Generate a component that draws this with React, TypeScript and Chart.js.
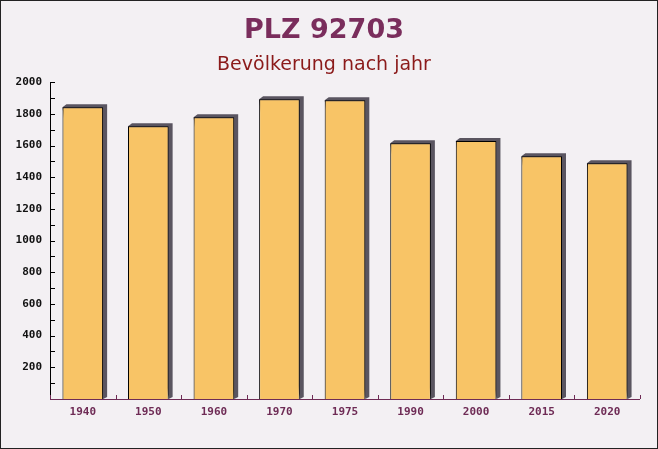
import React, { useEffect, useRef } from "react";
import { Chart, registerables } from "chart.js";

Chart.register(...registerables);

const categories = ["1940", "1950", "1960", "1970", "1975", "1990", "2000", "2015", "2020"];
const population = [1842, 1722, 1779, 1893, 1886, 1615, 1628, 1533, 1489];
const yTickValues = [200, 400, 600, 800, 1000, 1200, 1400, 1600, 1800, 2000];
const titleText = "PLZ 92703";
const subtitleText = "Bevölkerung nach jahr";

const MONO = "'DejaVu Sans Mono', monospace";

const depthPlugin = {
  id: "depth",
  beforeDatasetsDraw(chart: any) {
    const ctx = chart.ctx;
    const meta = chart.getDatasetMeta(0);
    const dx = 4, dy = 3;
    ctx.save();
    ctx.fillStyle = "#5a5560";
    meta.data.forEach((bar: any) => {
      const left = bar.x - bar.width / 2;
      const right = bar.x + bar.width / 2;
      const top = bar.y;
      const bottom = bar.base;
      ctx.beginPath();
      ctx.moveTo(left, top);
      ctx.lineTo(left + dx, top - dy);
      ctx.lineTo(right + dx, top - dy);
      ctx.lineTo(right + dx, bottom - 2);
      ctx.lineTo(right, bottom);
      ctx.closePath();
      ctx.fill();
    });
    ctx.restore();
  },
  afterDatasetsDraw(chart: any) {
    const ctx = chart.ctx;
    const { left, right, bottom, top } = chart.chartArea;
    const y = chart.scales.y;
    const x = chart.scales.x;
    ctx.save();
    ctx.strokeStyle = "#000";
    ctx.lineWidth = 1;
    ctx.beginPath();
    ctx.moveTo(left + 0.5, top);
    ctx.lineTo(left + 0.5, bottom);
    for (let v = 100; v <= 2000; v += 100) {
      const py = Math.round(y.getPixelForValue(v)) + 0.5;
      const major = v % 200 === 0;
      ctx.moveTo(left + (major ? 0 : 1), py);
      ctx.lineTo(left + 5, py);
    }
    ctx.stroke();
    ctx.strokeStyle = "#6e2b55";
    ctx.beginPath();
    ctx.moveTo(left, bottom + 0.5);
    ctx.lineTo(right, bottom + 0.5);
    const n = categories.length;
    for (let i = 0; i <= n; i++) {
      const px = Math.round(x.getPixelForValue(i - 0.5)) + 0.5;
      ctx.moveTo(px, bottom);
      ctx.lineTo(px, bottom - 4);
    }
    ctx.stroke();
    ctx.restore();
  },
};

const bgPlugin = {
  id: "bg",
  beforeDraw(chart: any) {
    const ctx = chart.ctx;
    ctx.save();
    ctx.fillStyle = "#f3f0f3";
    ctx.fillRect(0, 0, chart.width, chart.height);
    ctx.strokeStyle = "#222";
    ctx.lineWidth = 1;
    ctx.strokeRect(0.5, 0.5, chart.width - 1, chart.height - 1);
    ctx.restore();
  },
};

export default function App() {
  const ref = useRef<HTMLCanvasElement>(null);
  useEffect(() => {
    document.body.style.margin = "0";
    const chart = new Chart(ref.current!, {
      type: "bar",
      data: {
        labels: categories,
        datasets: [
          {
            data: population,
            backgroundColor: "#f8c466",
            borderColor: "#000000",
            borderWidth: 1,
            borderSkipped: "bottom",
            categoryPercentage: 1,
            barPercentage: 0.62,
          },
        ],
      },
      options: {
        animation: false,
        responsive: false,
        maintainAspectRatio: false,
        layout: { padding: { left: 8, right: 18, top: 0, bottom: 21 } },
        plugins: {
          legend: { display: false },
          tooltip: { enabled: false },
          title: {
            display: true,
            text: titleText,
            color: "#7a2d5c",
            font: { family: "'DejaVu Sans', sans-serif", size: 27, weight: "bold" },
            padding: { top: 15, bottom: 3 },
          },
          subtitle: {
            display: true,
            text: subtitleText,
            color: "#8b1a1a",
            font: { family: "'DejaVu Sans', sans-serif", size: 19 },
            padding: { top: 3, bottom: 6 },
          },
        },
        scales: {
          x: {
            grid: { display: false, drawTicks: false },
            border: { display: false },
            afterFit(s: any) { s.height = 29; },
            ticks: {
              color: "#6e2b55",
              font: { family: MONO, size: 11, weight: "bold" },
              padding: 7,
            },
          },
          y: {
            min: 0,
            max: 2000,
            afterBuildTicks(scale: any) {
              scale.ticks = yTickValues.map((v) => ({ value: v }));
            },
            afterFit(s: any) { s.width = 42; },
            grid: { display: false, drawTicks: false },
            border: { display: false },
            ticks: {
              color: "#111",
              font: { family: MONO, size: 11, weight: "bold" },
              padding: 8,
              callback: (v: any) => String(v),
            },
          },
        },
      },
      plugins: [bgPlugin, depthPlugin],
    });
    return () => chart.destroy();
  }, []);
  return (
    <div style={{ position: "fixed", left: 0, top: 0, width: 658, height: 449 }}>
      <canvas ref={ref} width={658} height={449} style={{ display: "block" }} />
    </div>
  );
}
